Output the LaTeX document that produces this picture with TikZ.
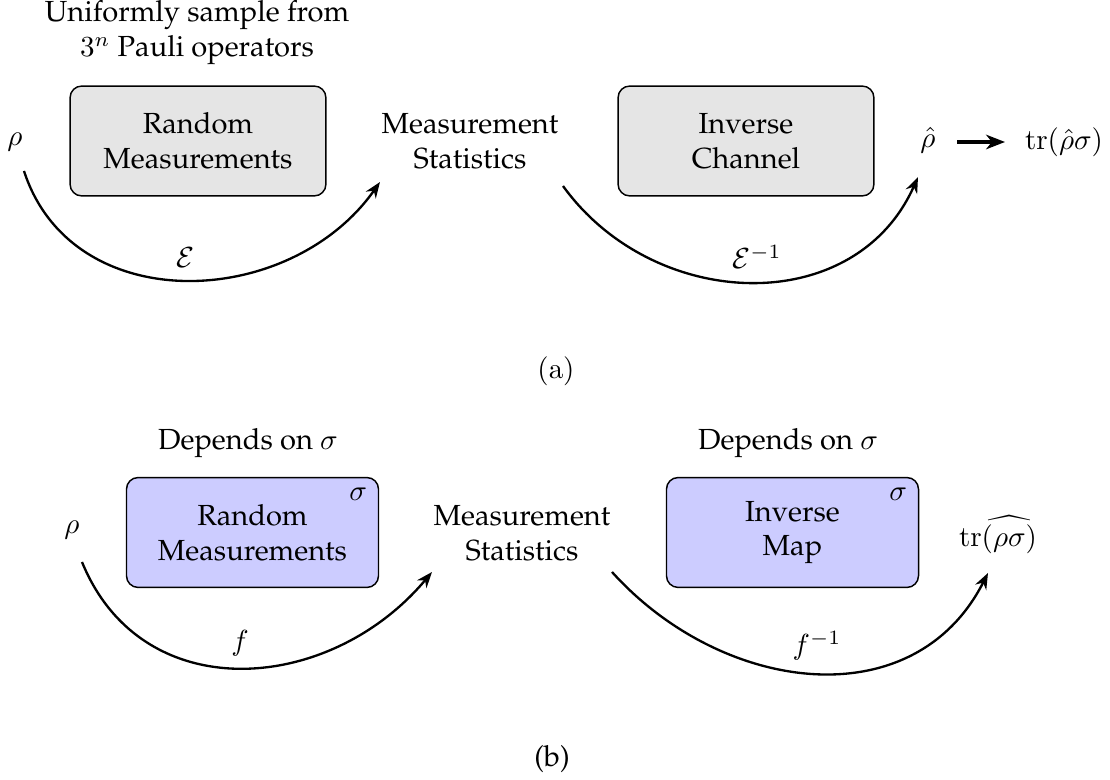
\documentclass[tikz,border=0pt]{standalone}
\usepackage[T1]{fontenc}
\renewcommand{\rmdefault}{ppl}
\usetikzlibrary{arrows.meta}
\begin{document}
\begin{tikzpicture}[x=0.344pt,y=-0.344pt,
  lbl/.style={align=center, inner sep=0pt},
  procbox/.style={draw, line width=0.5pt, rounded corners=4pt, minimum width=88pt, minimum height=37.8pt, align=center, inner sep=0pt},
  flow/.style={line width=0.8pt, -{Stealth[length=5.5pt,width=4.2pt,inset=1.8pt]}},
  bigflow/.style={line width=1.1pt, -{Stealth[length=6.5pt,width=5pt,inset=2pt]}}]
\useasboundingbox (0,0) rectangle (1110,780);
% ---------- panel (a)
\node[lbl] (title) at (197,33) {Uniformly sample from\\$3^n$ Pauli operators};
\node[procbox, fill=gray!20] (rmA) at (198,141) {Random\\Measurements};
\node[lbl] (rhoA) at (15,142) {$\rho$};
\node[lbl] (msA) at (470,141) {Measurement\\Statistics};
\node[procbox, fill=gray!20] (icA) at (746,141) {Inverse\\Channel};
\node[lbl] (rhohat) at (928,140) {$\hat\rho$};
\node[lbl] (trA) at (1064,142) {$\mathrm{tr}(\hat\rho\sigma)$};
\draw[bigflow] ([shift={(29,2)}]rhohat.center) -- ([shift={(-59,0)}]trA.center);
\draw[flow] ([shift={(9,29)}]rhoA.center) .. controls +(48,148) and +(-90,128) .. ([shift={(-90,41)}]msA.center);
\draw[flow] ([shift={(93,45)}]msA.center) .. controls +(91,126) and +(-63,142) .. ([shift={(-10,37)}]rhohat.center);
\node[lbl] (eA) at (185,258) {$\mathcal{E}$};
\node[lbl] (eiA) at (757,257) {$\mathcal{E}^{-1}$};
\node[lbl] (capA) at (556,371) {$(\mathrm{a})$};
% ---------- panel (b)
\node[lbl] (depL) at (248,443) {Depends on $\sigma$};
\node[lbl] (depR) at (788,443) {Depends on $\sigma$};
\node[procbox, fill=blue!20, minimum width=86.7pt] (rmB) at (252.5,532.5) {Random\\Measurements};
\node[lbl] (sigL) at ([shift={(-21,17)}]rmB.north east) {$\sigma$};
\node[lbl] (rhoB) at (72,530) {$\rho$};
\node[lbl] (msB) at (522,533) {Measurement\\Statistics};
\node[procbox, fill=blue!20, minimum width=86.7pt] (imB) at (792.5,532.5) {Inverse\\Map};
\node[lbl] (sigR) at ([shift={(-21,17)}]imB.north east) {$\sigma$};
\node[lbl] (trB) at (998,535) {$\mathrm{tr}\widehat{(\rho\sigma)}$};
\draw[flow] ([shift={(10,32)}]rhoB.center) .. controls +(60,147) and +(-102,122) .. ([shift={(-90,39)}]msB.center);
\draw[flow] ([shift={(90,39)}]msB.center) .. controls +(110,122) and +(-74,146) .. ([shift={(-10,38)}]trB.center);
\node[lbl] (fB) at (240,643) {$f$};
\node[lbl] (fiB) at (817,646) {$f^{-1}$};
\node[lbl] (capB) at (552,759) {(b)};
\end{tikzpicture}
\end{document}
